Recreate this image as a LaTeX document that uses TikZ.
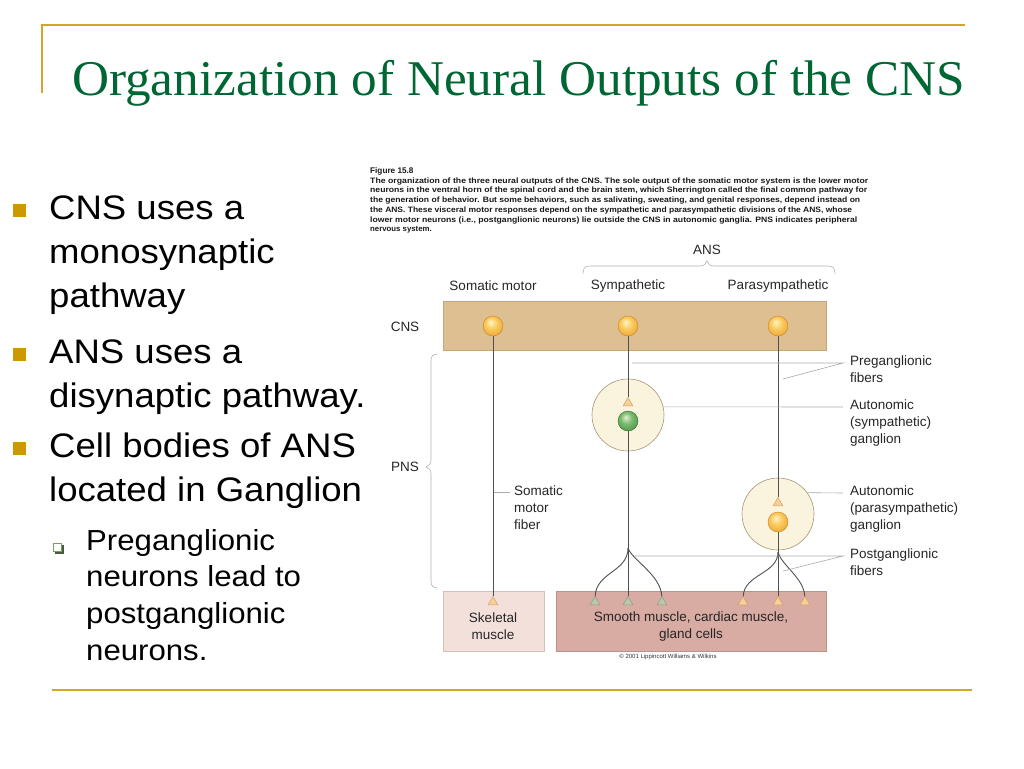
\documentclass[tikz,border=0pt]{standalone}
\usepackage{fontspec}
\setmainfont{Liberation Sans}
\newfontfamily\titlefont{Liberation Serif}
\usetikzlibrary{shapes.geometric}
\definecolor{goldline}{RGB}{212,165,40}
\definecolor{bulletgold}{RGB}{204,153,0}
\definecolor{titlegreen}{RGB}{0,102,51}
\definecolor{cnsband}{RGB}{222,191,146}
\definecolor{cnsedge}{RGB}{200,165,120}
\definecolor{skelfill}{RGB}{243,224,219}
\definecolor{skeledge}{RGB}{215,190,185}
\definecolor{smoothfill}{RGB}{216,171,163}
\definecolor{smoothedge}{RGB}{190,146,138}
\definecolor{gangfill}{RGB}{250,243,221}
\definecolor{gangedge}{RGB}{165,150,120}
\definecolor{leadergray}{RGB}{170,170,170}
\definecolor{axongray}{RGB}{80,80,80}
\definecolor{oL}{RGB}{255,244,196}
\definecolor{oM}{RGB}{250,204,96}
\definecolor{oD}{RGB}{228,152,38}
\definecolor{oE}{RGB}{205,130,30}
\definecolor{gL}{RGB}{225,242,215}
\definecolor{gM}{RGB}{125,188,112}
\definecolor{gD}{RGB}{62,132,62}
\definecolor{gE}{RGB}{50,110,50}
\definecolor{synofill}{RGB}{246,208,156}
\definecolor{synoedge}{RGB}{214,160,92}
\definecolor{syngfill}{RGB}{186,200,172}
\definecolor{syngedge}{RGB}{138,158,120}
\definecolor{subsq}{RGB}{120,160,100}
\definecolor{subshadow}{RGB}{70,90,60}
\pgfdeclareradialshading{orangeball}{\pgfpoint{-6bp}{10bp}}{color(0bp)=(oL); color(14bp)=(oM); color(38bp)=(oD); color(50bp)=(oE)}
\pgfdeclareradialshading{greenball}{\pgfpoint{-6bp}{10bp}}{color(0bp)=(gL); color(14bp)=(gM); color(38bp)=(gD); color(50bp)=(gE)}
\newcommand{\bulletlines}[1]{\scalebox{1.075}[1]{\begin{tabular}{@{}l@{}}#1\end{tabular}}}
\begin{document}
\begin{tikzpicture}[x=1pt,y=-1pt,
  btext/.style={anchor=north west, inner sep=0, font=\fontsize{34}{44}\selectfont},
  stext/.style={anchor=north west, inner sep=0, font=\fontsize{29}{36.7}\selectfont},
  bsq/.style={rectangle, fill=bulletgold, minimum size=13pt, inner sep=0},
  hsq/.style={rectangle, fill=white, draw=subsq, line width=0.9pt, minimum size=8pt, inner sep=0},
  captext/.style={anchor=west, inner sep=0, font=\fontsize{7.8}{9}\selectfont\bfseries, text=black!90},
  lbl/.style={anchor=north west, inner sep=0, align=left, font=\fontsize{13.5}{17}\selectfont, text=black!85},
  hdr/.style={inner sep=0, font=\fontsize{13.5}{17}\selectfont, text=black!85},
  osoma/.style={circle, minimum size=20pt, inner sep=0, shade, shading=orangeball, draw=oE, line width=0.4pt},
  gsoma/.style={circle, minimum size=20pt, inner sep=0, shade, shading=greenball, draw=gE, line width=0.4pt},
  gang/.style={circle, minimum size=72pt, inner sep=0, fill=gangfill, draw=gangedge, line width=0.6pt},
  osyn/.style={regular polygon, regular polygon sides=3, minimum size=11pt, inner sep=0, fill=synofill, draw=synoedge, line width=0.5pt},
  gsyn/.style={regular polygon, regular polygon sides=3, minimum size=11pt, inner sep=0, fill=syngfill, draw=syngedge, line width=0.5pt},
  axon/.style={draw=axongray, line width=0.9pt},
  leader/.style={draw=leadergray, line width=0.6pt},
  bracegray/.style={draw=black!30, line width=0.6pt}]
\useasboundingbox (0,0) rectangle (1024,768);
\fill[white] (0,0) rectangle (1024,768);

% frame lines
\draw[goldline, line width=2pt] (41,25) -- (965,25);
\draw[goldline, line width=1.6pt] (42,24) -- (42,93);
\draw[goldline, line width=2pt] (52,690) -- (972,690);

% title
\node[anchor=base west, inner sep=0, text=titlegreen] (title) at (72,95)
  {\resizebox{893pt}{\height}{\titlefont\fontsize{50}{50}\selectfont Organization of Neural Outputs of the CNS}};

% bullets
\node[bsq] (q1) at (19.5,210.5) {};
\node[btext] (t1) at (49,188.2) {\bulletlines{CNS uses a\\monosynaptic\\pathway}};
\node[bsq] (q2) at (19.5,354.5) {};
\node[btext] (t2) at (49,332.2) {\bulletlines{ANS uses a\\disynaptic pathway.}};
\node[bsq] (q3) at (19.5,448.5) {};
\node[btext] (t3) at (49,426.2) {\bulletlines{Cell bodies of ANS\\located in Ganglion}};
\fill[subshadow] (55,545) rectangle (63.5,553.5);
\node[hsq] (q4) at (57.5,547) {};
\node[stext] (t4) at (86,524.3) {\bulletlines{Preganglionic\\neurons lead to\\postganglionic\\neurons.}};

% caption
\node[captext] (fig) at (370,171) {\fontsize{8.2}{9}\selectfont Figure 15.8};
\node[captext] (c1) at (370,181) {\resizebox{498pt}{\height}{The organization of the three neural outputs of the CNS. The sole output of the somatic motor system is the lower motor}};
\node[captext] (c2) at (370,190.8) {\resizebox{497pt}{\height}{neurons in the ventral horn of the spinal cord and the brain stem, which Sherrington called the final common pathway for}};
\node[captext] (c3) at (370,200.6) {\resizebox{490pt}{\height}{the generation of behavior. But some behaviors, such as salivating, sweating, and genital responses, depend instead on}};
\node[captext] (c4) at (370,210.4) {\resizebox{482pt}{\height}{the ANS. These visceral motor responses depend on the sympathetic and parasympathetic divisions of the ANS, whose}};
\node[captext] (c5) at (370,220.2) {\resizebox{487pt}{\height}{lower motor neurons (i.e., postganglionic neurons) lie outside the CNS in autonomic ganglia. PNS indicates peripheral}};
\node[captext] (c6) at (370,230) {nervous system.};

% ANS brace and headers
\node[hdr] (ans) at (707,250) {ANS};
\draw[bracegray] (583,274) .. controls (583,268) and (585,266) .. (590,266) -- (700,266)
  .. controls (704,266) and (706,264) .. (707,261) .. controls (708,264) and (710,266) .. (714,266)
  -- (828,266) .. controls (833,266) and (835,268) .. (835,274);
\node[hdr] (hsom) at (493,286) {Somatic motor};
\node[hdr] (hsym) at (628,286) {Sympathetic};
\node[hdr] (hpar) at (778,286) {Parasympathetic};

% CNS band
\draw[fill=cnsband, draw=cnsedge, line width=0.5pt] (443,301) rectangle (826,350);
\node[hdr] (cns) at (405,327) {CNS};

% PNS brace
\draw[bracegray] (438,354) .. controls (433,354) and (431,356) .. (431,361) -- (431,460)
  .. controls (431,464) and (429,466) .. (426,467) .. controls (429,468) and (431,470) .. (431,474)
  -- (431,581) .. controls (431,586) and (433,588) .. (438,588);
\node[hdr] (pns) at (405,467) {PNS};

% muscles
\draw[fill=skelfill, draw=skeledge, line width=0.6pt] (443,591) rectangle (544,651);
\draw[fill=smoothfill, draw=smoothedge, line width=0.6pt] (556,591) rectangle (826,651);
\node[hdr, align=center] (skel) at (493,626) {Skeletal\\muscle};
\node[hdr, align=center] (smooth) at (691,626) {Smooth muscle, cardiac muscle,\\gland cells};
\node[inner sep=0, font=\fontsize{6}{7}\selectfont, text=black!80] (copy) at (668,657) {© 2001 Lippincott Williams \& Wilkins};

% ganglia
\node[gang] (g1) at (628,415) {};
\node[gang] (g2) at (778,514) {};

% coordinates
\coordinate (b1) at (628,548);
\coordinate (b2) at (778,552);

% synapse endings
\node[osyn] (e0) at (493,602) {};
\node[gsyn] (e1) at (595,602) {};
\node[gsyn] (e2) at (628,602) {};
\node[gsyn] (e3) at (662,602) {};
\node[osyn] (e4) at (743,602) {};
\node[osyn] (e5) at (778,602) {};
\node[osyn] (e6) at (805,602) {};
\node[osyn] (p1) at (628,403) {};
\node[osyn] (p2) at (778,503) {};

% somas
\node[osoma] (s1) at (493,326) {};
\node[osoma] (s2) at (628,326) {};
\node[osoma] (s3) at (778,326) {};
\node[gsoma] (n1) at (628,421) {};
\node[osoma] (n2) at (778,522) {};

% axons
\draw[axon] (s1) -- (e0);
\draw[axon] (s2) -- (p1);
\draw[axon] (s3) -- (p2);
\draw[axon] (n1) -- (b1);
\draw[axon] (b1) -- (e2);
\draw[axon] (b1) .. controls (628,572) and (596,572) .. (e1);
\draw[axon] (b1) .. controls (632,560) and (661,575) .. (e3);
\draw[axon] (n2) -- (b2);
\draw[axon] (b2) -- (e5);
\draw[axon] (b2) .. controls (778,574) and (744,574) .. (e4);
\draw[axon] (b2) .. controls (782,566) and (804,578) .. (e6);

% labels and leaders
\coordinate (sa) at (494,492);
\coordinate (sl) at (510,492);
\node[lbl] (lsom) at (514,486) {Somatic\\motor\\fiber};
\draw[leader] (sa) -- (sl);

\coordinate (pg) at (843,363);
\coordinate (pa1) at (632,363);
\coordinate (pa2) at (783,379);
\node[lbl] (lpre) at (850,356) {Preganglionic\\fibers};
\draw[leader] (pa1) -- (pg) -- (pa2);

\coordinate (ag1) at (843,407);
\node[lbl] (lsym) at (850,400) {Autonomic\\(sympathetic)\\ganglion};
\draw[leader] (g1.13) -- (ag1);

\coordinate (ag2) at (843,493);
\node[lbl] (lpar) at (850,486) {Autonomic\\(parasympathetic)\\ganglion};
\draw[leader] (g2.36) -- (ag2);

\coordinate (pf) at (843,556);
\coordinate (pf1) at (635,556);
\coordinate (pf2) at (783,571);
\node[lbl] (lpost) at (850,549) {Postganglionic\\fibers};
\draw[leader] (pf1) -- (pf) -- (pf2);
\end{tikzpicture}
\end{document}
